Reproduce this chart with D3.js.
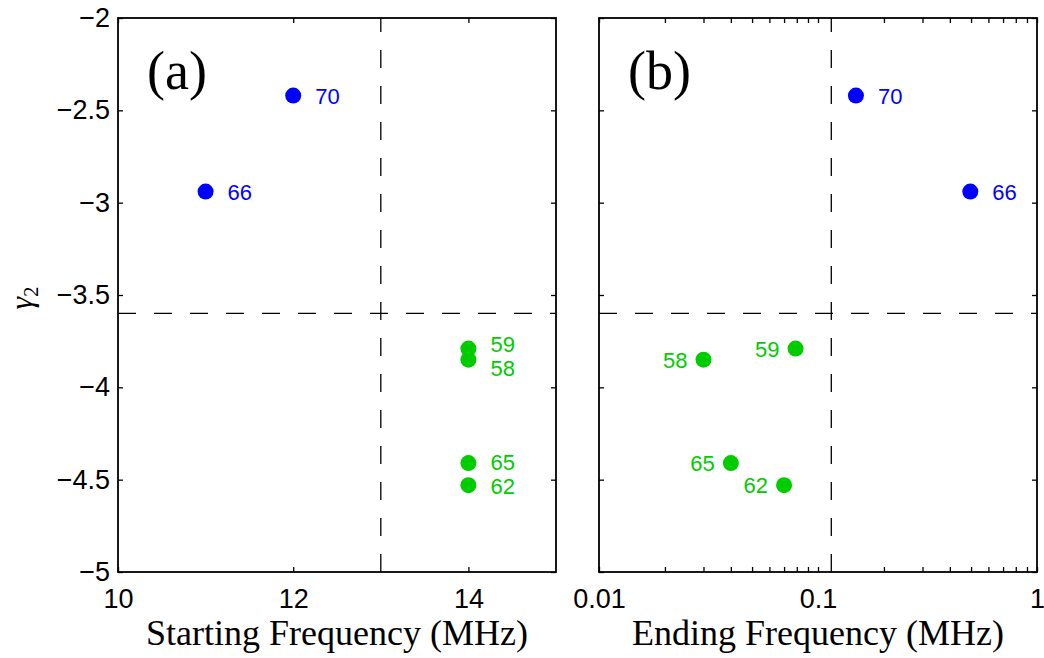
<!DOCTYPE html>
<html>
<head>
  <style>
    body { margin: 0; background: #fff; }
    svg { display: block; }
    .axis-label { font-family: "Liberation Serif", "Times New Roman", serif; font-size: 36px; fill: #000; }
    .panel-tag { font-family: "Liberation Serif", "Times New Roman", serif; font-size: 54px; fill: #000; }
    .pt-label { font-family: "Liberation Sans", Arial, sans-serif; font-size: 22px; }
  </style>
</head>
<body>
<script src="https://d3js.org/d3.v7.min.js"></script>
<script>
  // run numbers and their values
  const runs      = ["70", "66", "59", "58", "65", "62"];
  const gamma2    = [-2.42, -2.94, -3.79, -3.85, -4.41, -4.53];
  const startFreq = [12, 11, 14, 14, 14, 14];
  const endFreq   = [0.149, 0.496, 0.079, 0.030, 0.040, 0.070];
  const colorOf   = ["#0000ff", "#0000ff", "#00cc00", "#00cc00", "#00cc00", "#00cc00"];

  const yTicks = [-2, -2.5, -3, -3.5, -4, -4.5, -5];
  const xTicksA = [10, 12, 14];
  const xTicksB = [0.01, 0.1, 1];

  const gammaCut = -3.6;
  const startCut = 13;
  const endCut = 0.115;

  const W = 1044, H = 658;
  const yTop = 18, yBottom = 572;

  const svg = d3.select("body").append("svg")
    .attr("width", W)
    .attr("height", H);

  const y = d3.scaleLinear().domain([-5, -2]).range([yBottom, yTop]);

  const xa = d3.scaleLinear().domain([10, 15]).range([118, 556]);
  const xb = d3.scaleLog().domain([0.01, 1]).range([599, 1037]);

  const fmt = d3.format("~g");

  // tick text / line look for every axis
  function styleAxis(a) {
    a.select(".domain").remove();
    a.selectAll(".tick line").attr("stroke", "#000").attr("stroke-width", 1.3);
    a.selectAll(".tick text")
      .style("font-family", "'Liberation Sans', Arial, sans-serif")
      .style("font-size", "27px")
      .attr("fill", "#000");
  }

  function drawPanel(x, xTicks, allX, xVals, tag, xLabel, vCut, labelSide, withYLabels) {
    const g = svg.append("g");
    const [x0, x1] = x.range();

    // inward ticks on all four sides
    g.append("g")
      .attr("transform", `translate(0,${yBottom})`)
      .call(d3.axisBottom(x).tickValues(allX).tickSize(-5).tickPadding(10)
        .tickFormat(d => xTicks.includes(d) ? fmt(d) : ""))
      .call(styleAxis)
      .call(a => a.selectAll("text").attr("dy", "0.98em"));
    g.append("g")
      .attr("transform", `translate(0,${yTop})`)
      .call(d3.axisTop(x).tickValues(allX).tickSize(-5).tickFormat(""))
      .call(styleAxis);
    g.append("g")
      .attr("transform", `translate(${x0},0)`)
      .call(d3.axisLeft(y).tickValues(yTicks).tickSize(-5).tickPadding(8)
        .tickFormat(d => withYLabels ? fmt(d) : ""))
      .call(styleAxis);
    g.append("g")
      .attr("transform", `translate(${x1},0)`)
      .call(d3.axisRight(y).tickValues(yTicks).tickSize(-5).tickFormat(""))
      .call(styleAxis);

    // dashed guide lines
    g.append("line")
      .attr("x1", x(vCut)).attr("x2", x(vCut))
      .attr("y1", yBottom).attr("y2", yTop)
      .attr("stroke", "#000").attr("stroke-width", 1.3)
      .attr("stroke-dasharray", "18,18");
    g.append("line")
      .attr("x1", x0).attr("x2", x1)
      .attr("y1", y(gammaCut)).attr("y2", y(gammaCut))
      .attr("stroke", "#000").attr("stroke-width", 1.3)
      .attr("stroke-dasharray", "18,18");

    // frame
    g.append("rect")
      .attr("x", x0).attr("y", yTop)
      .attr("width", x1 - x0).attr("height", yBottom - yTop)
      .attr("fill", "none").attr("stroke", "#000").attr("stroke-width", 1.8);

    // points
    const idx = d3.range(runs.length);
    g.selectAll("circle.pt")
      .data(idx)
      .join("circle")
      .attr("class", "pt")
      .attr("cx", i => x(xVals[i]))
      .attr("cy", i => y(gamma2[i]))
      .attr("r", 8)
      .attr("fill", i => colorOf[i]);

    g.selectAll("text.pt-label")
      .data(idx)
      .join("text")
      .attr("class", "pt-label")
      .attr("fill", i => colorOf[i])
      .attr("x", i => labelSide[i].side === "r" ? x(xVals[i]) + 22 : x(xVals[i]) - 16)
      .attr("y", i => y(gamma2[i]) + 8 + labelSide[i].dy)
      .attr("text-anchor", i => labelSide[i].side === "r" ? "start" : "end")
      .text(i => runs[i]);

    g.append("text")
      .attr("class", "panel-tag")
      .attr("x", x0 + 29)
      .attr("y", 89)
      .text(tag);

    g.append("text")
      .attr("class", "axis-label")
      .attr("x", (x0 + x1) / 2)
      .attr("y", 645)
      .attr("text-anchor", "middle")
      .text(xLabel);
  }

  drawPanel(xa, xTicksA, xTicksA, startFreq, "(a)", "Starting Frequency (MHz)", startCut,
    [{side: "r", dy: 0}, {side: "r", dy: 0}, {side: "r", dy: -5}, {side: "r", dy: 8},
     {side: "r", dy: -1}, {side: "r", dy: 1}], true);

  drawPanel(xb, xTicksB, xb.ticks(), endFreq, "(b)", "Ending Frequency (MHz)", endCut,
    [{side: "r", dy: 0}, {side: "r", dy: 0}, {side: "l", dy: 0}, {side: "l", dy: 0},
     {side: "l", dy: 0}, {side: "l", dy: 0}], false);

  // y label: gamma with subscript 2
  const yl = svg.append("text")
    .attr("transform", "translate(32,298) rotate(-90)")
    .attr("text-anchor", "middle")
    .style("font-family", "'Liberation Serif', serif")
    .style("font-style", "italic")
    .style("font-size", "32px");
  yl.append("tspan").text("γ");
  yl.append("tspan").attr("dy", 6).style("font-size", "21px").style("font-style", "normal").text("2");
</script>
</body>
</html>
